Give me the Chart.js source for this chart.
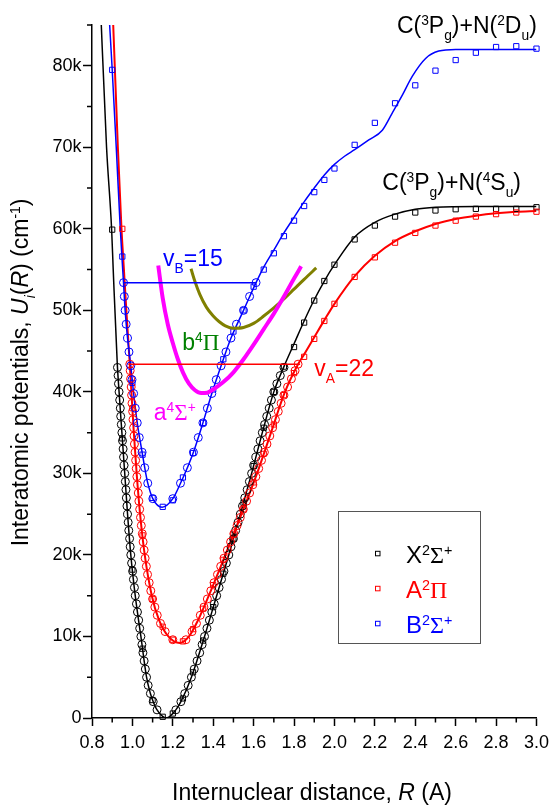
<!DOCTYPE html>
<html>
<head>
<meta charset="utf-8">
<script src="https://cdn.jsdelivr.net/npm/chart.js@4.4.0/dist/chart.umd.min.js"></script>
<style>
  html, body { margin: 0; padding: 0; background: #fff; }
  canvas { display: block; }
</style>
</head>
<body>
<canvas id="pec" width="555" height="805"></canvas>
<script>
// R in angstrom, U in units of 1000 cm-1
const xTicks = [0.8, 1.0, 1.2, 1.4, 1.6, 1.8, 2.0, 2.2, 2.4, 2.6, 2.8, 3.0];
const xMinor = [0.9, 1.1, 1.3, 1.5, 1.7, 1.9, 2.1, 2.3, 2.5, 2.7, 2.9];
const yTicks = [0, 10, 20, 30, 40, 50, 60, 70, 80];
const yMinor = [5, 15, 25, 35, 45, 55, 65, 75, 85];

// X2Sigma+ : fitted curve, ab initio points (squares), RKR turning points (circles)
const XcurveR = [0.835, 0.846, 0.872, 0.897, 0.905, 0.925, 0.934, 0.948, 0.962, 0.976, 0.992, 1.014, 1.042, 1.070, 1.089, 1.103, 1.122, 1.168, 1.215, 1.240, 1.292, 1.357, 1.417, 1.477, 1.534, 1.590, 1.643, 1.700, 1.750, 1.800, 1.850, 1.900, 1.950, 2.000, 2.100, 2.200, 2.300, 2.400, 2.500, 2.700, 3.000];
const XcurveU = [92, 85, 70, 60, 55, 43.5, 40, 35, 30, 25, 20, 15, 10, 5, 3, 2, 1, 0, 1, 2, 5, 10, 15, 20, 25, 30, 35, 40, 43.1, 45.9, 48.7, 51.3, 53.6, 55.6, 59.0, 60.8, 61.8, 62.4, 62.65, 62.75, 62.75];
const XsqR = [0.90, 0.95, 1.00, 1.05, 1.10, 1.15, 1.20, 1.25, 1.30, 1.35, 1.40, 1.45, 1.50, 1.55, 1.60, 1.65, 1.70, 1.75, 1.80, 1.85, 1.90, 1.95, 2.00, 2.10, 2.20, 2.30, 2.40, 2.50, 2.60, 2.70, 2.80, 2.90, 3.00];
const XsqU = [59.9, 34.3, 18.2, 8.5, 2.2, 0.15, 0.55, 2.4, 5.6, 9.5, 13.6, 17.7, 22.0, 26.4, 30.9, 35.6, 40.0, 43.1, 45.5, 48.5, 51.2, 53.6, 55.6, 58.7, 60.4, 61.5, 62.0, 62.25, 62.4, 62.45, 62.45, 62.45, 62.65];
const Xlev = [1, 2, 3, 4, 5, 6, 7, 8, 9, 10, 11, 12, 13, 14, 15, 16, 17, 18, 19, 20, 21, 22, 23, 24, 25, 26, 27, 28, 29, 30, 31, 32, 33, 34, 35, 36, 37, 38, 39, 40, 41, 42, 43];
const XinR = [1.122, 1.103, 1.089, 1.078, 1.070, 1.064, 1.058, 1.052, 1.047, 1.042, 1.036, 1.031, 1.025, 1.020, 1.014, 1.010, 1.005, 1.001, 0.996, 0.992, 0.989, 0.986, 0.982, 0.979, 0.976, 0.973, 0.970, 0.968, 0.965, 0.962, 0.959, 0.956, 0.954, 0.951, 0.948, 0.945, 0.942, 0.940, 0.937, 0.934, 0.931, 0.929, 0.926];
const XoutR = [1.215, 1.240, 1.259, 1.276, 1.292, 1.306, 1.320, 1.333, 1.345, 1.357, 1.369, 1.381, 1.393, 1.405, 1.417, 1.429, 1.441, 1.453, 1.465, 1.477, 1.488, 1.500, 1.511, 1.523, 1.534, 1.545, 1.556, 1.568, 1.579, 1.590, 1.600, 1.611, 1.621, 1.632, 1.643, 1.654, 1.665, 1.677, 1.688, 1.700, 1.715, 1.732, 1.750];

// A2Pi
const AcurveR = [0.900, 0.905, 0.928, 0.946, 0.958, 0.970, 0.987, 0.995, 1.007, 1.021, 1.038, 1.061, 1.096, 1.132, 1.178, 1.234, 1.280, 1.325, 1.378, 1.460, 1.540, 1.617, 1.686, 1.755, 1.820, 1.850, 1.900, 1.950, 2.000, 2.100, 2.200, 2.300, 2.400, 2.500, 2.600, 2.700, 2.800, 2.900, 3.000];
const AcurveU = [88, 85, 70, 60, 55, 50, 43.4, 40, 35, 30, 25, 20, 15, 12, 10, 9.2, 10, 12, 15, 20, 25, 30, 35, 40, 43.4, 44.6, 46.7, 48.8, 50.8, 54.2, 56.7, 58.5, 59.7, 60.6, 61.2, 61.6, 61.9, 62.1, 62.2];
const AsqR = [0.95, 1.00, 1.05, 1.10, 1.15, 1.20, 1.25, 1.30, 1.35, 1.40, 1.45, 1.50, 1.55, 1.60, 1.65, 1.70, 1.75, 1.80, 1.85, 1.90, 1.95, 2.00, 2.10, 2.20, 2.30, 2.40, 2.50, 2.60, 2.70, 2.80, 2.90, 3.00];
const AsqU = [60.0, 38.0, 22.4, 14.6, 11.2, 9.6, 9.4, 10.9, 13.4, 16.3, 19.4, 22.5, 25.6, 28.9, 32.4, 36.0, 39.6, 42.3, 44.3, 46.5, 48.7, 50.8, 54.1, 56.5, 58.3, 59.5, 60.4, 61.0, 61.5, 61.8, 62.0, 62.1];
const Alev = [9.6, 10.6, 11.6, 12.6, 13.6, 14.6, 15.6, 16.6, 17.6, 18.6, 19.6, 20.6, 21.6, 22.6, 23.6, 24.6, 25.6, 26.6, 27.6, 28.6, 29.6, 30.6, 31.6, 32.6, 33.6, 34.6, 35.6, 36.6, 37.6, 38.6, 39.6, 40.6, 41.6, 42.6, 43.4];
const AinR = [1.200, 1.162, 1.139, 1.123, 1.111, 1.100, 1.091, 1.083, 1.075, 1.069, 1.063, 1.058, 1.053, 1.049, 1.044, 1.040, 1.036, 1.032, 1.029, 1.025, 1.022, 1.019, 1.016, 1.013, 1.010, 1.008, 1.006, 1.003, 1.001, 0.998, 0.996, 0.994, 0.991, 0.989, 0.987];
const AoutR = [1.265, 1.295, 1.317, 1.336, 1.354, 1.371, 1.388, 1.404, 1.421, 1.437, 1.453, 1.470, 1.486, 1.502, 1.518, 1.534, 1.549, 1.565, 1.580, 1.596, 1.611, 1.625, 1.639, 1.653, 1.666, 1.680, 1.694, 1.708, 1.722, 1.736, 1.750, 1.768, 1.787, 1.805, 1.820];

// B2Sigma+
const BcurveR = [0.885, 0.899, 0.920, 0.940, 0.948, 0.956, 0.964, 0.976, 0.992, 1.006, 1.024, 1.048, 1.061, 1.076, 1.101, 1.147, 1.200, 1.238, 1.272, 1.302, 1.349, 1.393, 1.439, 1.488, 1.550, 1.612, 1.650, 1.700, 1.750, 1.800, 1.850, 1.900, 1.950, 2.000, 2.050, 2.100, 2.170, 2.237, 2.286, 2.336, 2.385, 2.451, 2.516, 2.600, 3.000];
const BcurveU = [86, 80, 70, 60, 56.6, 53.4, 50.0, 46.6, 43.2, 39.8, 36.2, 32.6, 30.7, 28.8, 26.9, 25.85, 26.9, 28.8, 30.7, 32.6, 36.2, 39.8, 43.2, 46.6, 50.0, 53.4, 55.3, 57.4, 59.5, 61.4, 63.3, 65.0, 66.6, 67.9, 68.9, 69.7, 70.9, 72.1, 74.2, 76.4, 78.7, 80.9, 81.8, 82.0, 82.0];
const BsqR = [0.90, 0.95, 1.00, 1.05, 1.10, 1.15, 1.20, 1.25, 1.30, 1.35, 1.40, 1.45, 1.50, 1.55, 1.60, 1.65, 1.70, 1.75, 1.80, 1.85, 1.90, 1.95, 2.00, 2.10, 2.20, 2.30, 2.40, 2.50, 2.60, 2.70, 2.80, 2.90, 3.00];
const BsqU = [79.5, 56.6, 41.1, 32.3, 27.0, 25.9, 26.7, 29.5, 32.5, 36.2, 40.3, 44.0, 47.4, 50.0, 52.9, 55.0, 57.0, 59.1, 61.0, 62.8, 64.5, 66.0, 67.4, 70.3, 73.0, 75.4, 77.6, 79.4, 80.7, 81.6, 82.3, 82.4, 82.1];
const Blev = [26.9, 28.8, 30.7, 32.6, 34.4, 36.2, 38.0, 39.8, 41.5, 43.2, 44.9, 46.6, 48.3, 50.0, 51.7, 53.4];
const BinR = [1.101, 1.076, 1.061, 1.048, 1.034, 1.024, 1.014, 1.006, 0.998, 0.992, 0.983, 0.976, 0.969, 0.964, 0.960, 0.956];
const BoutR = [1.200, 1.238, 1.272, 1.302, 1.326, 1.349, 1.371, 1.393, 1.415, 1.439, 1.463, 1.488, 1.515, 1.550, 1.580, 1.612];

// quartet states
const a4R = [1.128, 1.150, 1.175, 1.200, 1.225, 1.250, 1.280, 1.310, 1.340, 1.370, 1.400, 1.450, 1.500, 1.550, 1.600, 1.650, 1.700, 1.750, 1.800, 1.835];
const a4U = [55.5, 51.5, 48.3, 46.0, 44.0, 42.4, 41.0, 40.2, 39.85, 39.9, 40.3, 41.2, 42.4, 44.0, 45.8, 47.7, 49.6, 51.7, 53.9, 55.4];
const b4R = [1.290, 1.310, 1.333, 1.366, 1.400, 1.430, 1.460, 1.500, 1.550, 1.600, 1.650, 1.700, 1.750, 1.800, 1.850, 1.910];
const b4U = [55.1, 53.5, 52.0, 50.4, 49.3, 48.6, 48.1, 47.8, 47.9, 48.4, 49.3, 50.3, 51.4, 52.6, 53.8, 55.2];

// highest bound levels vA = 22, vB = 15
const vAR = [0.980, 1.830], vAU = [43.4, 43.4];
const vBR = [0.957, 1.615], vBU = [53.4, 53.4];

const pts = (xs, ys) => xs.map((x, i) => ({ x: x, y: ys[i] }));
const levelPts = (lev, inner, outer) => pts(inner, lev).concat(pts(outer, lev));

const SANS = '"Liberation Sans", Arial, sans-serif';
const SERIF = '"Liberation Serif", "Times New Roman", serif';

function curve(data, color, width, order) {
    return { data: data, showLine: true, borderColor: color, borderWidth: width, pointRadius: 0,
             cubicInterpolationMode: 'monotone', fill: false, order: order };
}
function marks(data, color, style, r, order) {
    return { data: data, showLine: false, borderColor: color, backgroundColor: 'rgba(0,0,0,0)',
             pointStyle: style, pointRadius: r, pointBorderWidth: 1, clip: false, order: order };
}

// rich text: flags u = superscript, d = subscript, i = italic, g = serif greek
function partFont(fl, size) {
    const s = (fl.includes('u') || fl.includes('d')) ? size * 0.6 : size;
    return (fl.includes('i') ? 'italic ' : '') + s.toFixed(1) + 'px ' + (fl.includes('g') ? SERIF : SANS);
}
function richText(ctx, x, y, parts, size, color, align) {
    ctx.save();
    ctx.fillStyle = color;
    ctx.textAlign = 'left';
    ctx.textBaseline = 'alphabetic';
    let w = 0;
    parts.forEach(([t, fl]) => { ctx.font = partFont(fl, size); w += ctx.measureText(t).width; });
    let cx = align === 'center' ? x - w / 2 : x;
    parts.forEach(([t, fl]) => {
        ctx.font = partFont(fl, size);
        const dy = fl.includes('u') ? -0.34 * size : fl.includes('d') ? 0.3 * size : 0;
        ctx.fillText(t, cx, y + dy);
        cx += ctx.measureText(t).width;
    });
    ctx.restore();
}

const decor = {
    id: 'decor',
    afterDraw(chart) {
        const { ctx, chartArea: a, scales: { x, y } } = chart;

        // minor ticks
        ctx.save();
        ctx.strokeStyle = '#000';
        ctx.lineWidth = 1.5;
        ctx.beginPath();
        yMinor.forEach(v => { const py = y.getPixelForValue(v); ctx.moveTo(a.left - 5, py); ctx.lineTo(a.left, py); });
        xMinor.forEach(v => { const px = x.getPixelForValue(v); ctx.moveTo(px, a.bottom); ctx.lineTo(px, a.bottom + 4.5); });
        ctx.stroke();
        ctx.restore();

        // labels placed in data coordinates
        const at = (r, u) => [x.getPixelForValue(r), y.getPixelForValue(u)];
        const notes = [
            [2.309, 84.05, '#000', [['C(', ''], ['3', 'u'], ['P', ''], ['g', 'd'], [')+N(', ''], ['2', 'u'], ['D', ''], ['u', 'd'], [')', '']]],
            [2.237, 64.8, '#000', [['C(', ''], ['3', 'u'], ['P', ''], ['g', 'd'], [')+N(', ''], ['4', 'u'], ['S', ''], ['u', 'd'], [')', '']]],
            [1.152, 55.4, '#0000ff', [['v', ''], ['B', 'd'], ['=15', '']]],
            [1.900, 41.96, '#ff0000', [['v', ''], ['A', 'd'], ['=22', '']]],
            [1.247, 45.15, '#008000', [['b', ''], ['4', 'u'], ['\u03A0', 'g']]],
            [1.106, 36.56, '#ff00ff', [['a', ''], ['4', 'u'], ['\u03A3', 'g'], ['+', 'u']]]
        ];
        notes.forEach(([r, u, c, parts]) => {
            const [px, py] = at(r, u);
            richText(ctx, px, py, parts, 23, c, 'left');
        });

        // legend box
        ctx.save();
        ctx.strokeStyle = '#555';
        ctx.lineWidth = 1;
        ctx.strokeRect(338.5, 511.5, 142, 132);
        const rows = [
            ['#000000', 553.3, 562.7, [['X', ''], ['2', 'u'], ['\u03A3', 'g'], ['+', 'u']]],
            ['#ff0000', 588.3, 598.3, [['A', ''], ['2', 'u'], ['\u03A0', 'g']]],
            ['#0000ff', 623.3, 632.7, [['B', ''], ['2', 'u'], ['\u03A3', 'g'], ['+', 'u']]]
        ];
        rows.forEach(([c, my, by, parts]) => {
            ctx.strokeStyle = c;
            ctx.strokeRect(375.5, my - 2, 4.5, 4.5);
            richText(ctx, 406, by, parts, 24, c, 'left');
        });
        ctx.restore();

        // axis titles
        richText(ctx, 312, 800, [['Internuclear distance, ', ''], ['R', 'i'], [' (A)', '']], 23, '#000', 'center');
        ctx.save();
        ctx.translate(28, 372.5);
        ctx.rotate(-Math.PI / 2);
        richText(ctx, 0, 0, [['Interatomic potentials, ', ''], ['U', 'i'], ['i', 'di'], ['(', ''], ['R', 'i'],
                             [') (cm', ''], ['-1', 'u'], [')', '']], 23, '#000', 'center');
        ctx.restore();
    }
};

new Chart(document.getElementById('pec').getContext('2d'), {
    type: 'scatter',
    data: {
        datasets: [
            curve(pts(vBR, vBU), '#0000ff', 1.5, 1),
            curve(pts(vAR, vAU), '#ff0000', 1.5, 1),
            curve(pts(a4R, a4U), '#ff00ff', 4, 2),
            curve(pts(b4R, b4U), '#808000', 3, 2),
            marks(levelPts(Blev, BinR, BoutR), '#0000ff', 'circle', 4, 3),
            marks(levelPts(Alev, AinR, AoutR), '#ff0000', 'circle', 4, 4),
            marks(levelPts(Xlev, XinR, XoutR), '#000000', 'circle', 4, 5),
            marks(pts(BsqR, BsqU), '#0000ff', 'rect', 3.7, 6),
            marks(pts(AsqR, AsqU), '#ff0000', 'rect', 3.7, 6),
            marks(pts(XsqR, XsqU), '#000000', 'rect', 3.7, 6),
            curve(pts(BcurveR, BcurveU), '#0000ff', 1.5, 7),
            curve(pts(AcurveR, AcurveU), '#ff0000', 2, 7),
            curve(pts(XcurveR, XcurveU), '#000000', 1.5, 7)
        ]
    },
    options: {
        responsive: false,
        animation: false,
        devicePixelRatio: 1,
        events: [],
        layout: { padding: { top: 25, right: 17, left: 0, bottom: 0 } },
        plugins: { legend: { display: false }, tooltip: { enabled: false } },
        scales: {
            x: {
                type: 'linear', min: 0.8, max: 3.0,
                afterBuildTicks: s => { s.ticks = xTicks.map(v => ({ value: v })); },
                afterFit: s => { s.height = 87; },
                border: { display: true, color: '#000', width: 1.5 },
                grid: { drawOnChartArea: false, drawTicks: true, tickLength: 8, tickColor: '#000', tickWidth: 1.5 },
                ticks: { color: '#000', font: { family: SANS, size: 18 }, padding: 6, maxRotation: 0,
                         callback: v => v.toFixed(1) }
            },
            y: {
                type: 'linear', min: 0, max: 85,
                afterBuildTicks: s => { s.ticks = yTicks.map(v => ({ value: v })); },
                afterFit: s => { s.width = 92; },
                border: { display: true, color: '#000', width: 1.5 },
                grid: { drawOnChartArea: false, drawTicks: true, tickLength: 9, tickColor: '#000', tickWidth: 1.5 },
                ticks: { color: '#000', font: { family: SANS, size: 18 }, padding: 1.5,
                         callback: v => (v === 0 ? '0' : v + 'k') }
            }
        }
    },
    plugins: [decor]
});
</script>
</body>
</html>
